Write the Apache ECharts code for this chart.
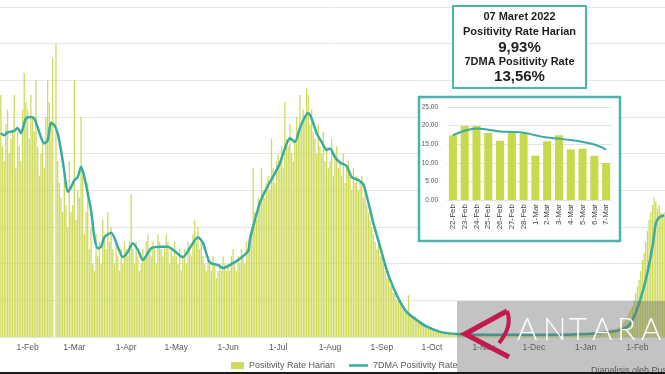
<!DOCTYPE html>
<html><head><meta charset="utf-8">
<script src="https://cdn.jsdelivr.net/npm/echarts@6/dist/echarts.min.js"></script>
<style>html,body{margin:0;padding:0;background:#fff;overflow:hidden}#c{width:665px;height:374px}</style>
</head><body><div id="c"></div>
<script>
// ---- Daily positivity rate (%), starting 2021-01-16 ----
const jan2021 = [33, 26, 24, 29, 31, 25, 27, 28, 33, 23, 28, 26, 24, 31, 36, 32];
const feb2021 = [31, 27, 33, 30, 28, 35, 26, 22, 25, 27, 23, 30, 35, 32, 29, 38, 0, 40, 24, 21, 19, 17, 22, 18, 15, 24, 17, 18];
const mar2021 = [35, 16, 20, 19, 30, 22, 14, 17, 21, 12, 15, 10, 9, 14, 11, 13, 10, 16, 14, 12, 17, 13, 15, 12, 10, 13, 11, 9, 12, 10, 13];
const apr2021 = [12, 11, 13, 19.5, 12, 10, 13, 11, 9, 10, 12, 11, 13, 14, 12, 11, 13, 12, 10, 14, 13, 12, 11, 12, 14, 13, 10, 12, 11, 13];
const may2021 = [11, 10, 12, 9, 11, 12, 10, 13, 12, 11, 14, 16, 13, 15, 12, 13, 11, 10, 9, 11, 10, 9, 11, 10, 8, 9, 10, 9, 11, 10, 9];
const jun2021 = [10, 9, 11, 12, 10, 9, 11, 10, 12, 11, 10, 13, 12, 14, 15, 23, 17, 16, 19, 18, 23, 20, 19, 21, 22, 20, 27, 23, 21, 24];
const jul2021 = [25, 24, 26, 23, 32, 27, 26, 29, 25, 24, 27, 30, 28, 33, 29, 31, 30, 34, 33, 29, 31, 28, 27, 25, 29, 26, 25, 28, 24, 26, 23];
const aug2021 = [24, 27, 22, 25, 26, 23, 24, 22, 25, 21, 23, 24, 22, 20, 23, 21, 22, 20, 21, 22, 19, 20, 18, 17, 16, 15, 14, 13, 12, 13, 11];
const sep2021 = [11, 10, 9, 8, 9, 7, 7, 6, 6, 5, 5, 4.5, 4.5, 4, 3.5, 3.5, 5.7, 3, 3, 2.5, 2.8, 2.2, 2, 2.2, 1.8, 1.6, 1.5, 1.4, 1.2, 1.1];
const oct2021 = [1.0, 0.9, 0.8, 0.8, 0.7, 0.7, 0.6, 0.6, 0.5, 0.5, 0.5, 0.5, 0.4, 0.5, 0.4, 0.4, 0.4, 0.4, 0.3, 0.4, 0.3, 0.3, 0.3, 0.3, 0.3, 0.4, 0.3, 0.3, 0.3, 0.3, 0.3];
const nov2021 = [0.3, 0.2, 0.3, 0.3, 0.2, 0.3, 0.2, 0.3, 0.3, 0.2, 0.3, 0.2, 0.2, 0.3, 0.2, 0.3, 0.2, 0.2, 0.3, 0.2, 0.2, 0.3, 0.2, 0.2, 0.3, 0.2, 0.2, 0.3, 0.2, 0.3];
const dec2021 = [0.2, 0.3, 0.2, 0.2, 0.3, 0.2, 0.3, 0.2, 0.2, 0.3, 0.2, 0.3, 0.2, 0.2, 0.3, 0.3, 0.2, 0.3, 0.3, 0.2, 0.3, 0.3, 0.3, 0.4, 0.3, 0.3, 0.4, 0.3, 0.4, 0.4, 0.4];
const jan2022 = [0.4, 0.4, 0.5, 0.5, 0.5, 0.5, 0.6, 0.6, 0.6, 0.7, 0.7, 0.7, 0.8, 0.8, 0.9, 0.9, 1.0, 1.1, 1.1, 1.2, 1.3, 1.5, 1.8, 2.0, 2.4, 2.8, 3.3, 3.8, 4.2, 5.0, 6.0];
const feb2022 = [6.8, 7.8, 9.0, 10.5, 11.5, 13.0, 14.5, 16.0, 17.0, 18.0, 19.0, 18.5, 17.5, 18.0, 17.0, 16.5, 17.0];
const startDate = [2021, 0, 16];

// ---- 7-day moving average (%) read at points along the line ----
const ma7Dates = ['2021-01-16','2021-01-18','2021-01-20','2021-01-24','2021-01-26','2021-01-28','2021-01-31','2021-02-03','2021-02-05','2021-02-07','2021-02-11','2021-02-13','2021-02-15','2021-02-17','2021-02-19','2021-02-21','2021-02-23','2021-02-25','2021-02-27','2021-03-01','2021-03-03','2021-03-05','2021-03-07','2021-03-09','2021-03-11','2021-03-13','2021-03-15','2021-03-17','2021-03-19','2021-03-23','2021-03-27','2021-03-30','2021-04-02','2021-04-05','2021-04-08','2021-04-11','2021-04-16','2021-04-22','2021-04-26','2021-04-29','2021-05-05','2021-05-09','2021-05-14','2021-05-17','2021-05-21','2021-05-26','2021-05-29','2021-06-02','2021-06-07','2021-06-13','2021-06-14','2021-06-17','2021-06-20','2021-06-23','2021-06-26','2021-06-29','2021-07-02','2021-07-05','2021-07-08','2021-07-11','2021-07-14','2021-07-17','2021-07-19','2021-07-21','2021-07-24','2021-07-27','2021-07-30','2021-08-01','2021-08-04','2021-08-07','2021-08-11','2021-08-14','2021-08-18','2021-08-21','2021-08-24','2021-08-27','2021-08-31','2021-09-04','2021-09-08','2021-09-12','2021-09-16','2021-09-22','2021-09-28','2021-10-06','2021-10-16','2021-11-01','2021-11-23','2021-12-17','2022-01-09','2022-01-15','2022-01-21','2022-01-27','2022-01-30','2022-02-02','2022-02-06','2022-02-10','2022-02-12','2022-02-14','2022-02-17'];
const ma7Values = [27.8,27.5,27.9,28.1,28.5,27.8,29.8,30.0,29.8,28.6,26.4,26.8,29.2,28.9,27.8,25.5,22.5,19.8,20.4,21.4,21.8,23.2,21.8,19.6,17.3,13.6,12.1,12.3,13.6,14.2,12.3,10.9,11.6,12.8,11.9,10.5,12.1,12.3,12.3,11.9,10.9,12.1,13.6,12.8,10.2,9.8,9.4,9.8,10.5,11.7,13.2,15.9,18.3,19.8,21.1,22.3,23.7,25.7,27.1,26.6,28.5,30.0,30.5,29.8,27.8,26.6,25.5,25.7,24.5,23.8,23.3,21.8,21.4,20.8,18.3,15.5,12.3,9.1,6.7,4.8,3.4,2.3,1.4,0.7,0.4,0.3,0.3,0.3,0.5,0.7,0.9,1.6,2.8,4.6,7.8,12.3,15.5,16.3,16.6];

// ---- Inset: last 14 days ----
const insetCategories = ['22-Feb','23-Feb','24-Feb','25-Feb','26-Feb','27-Feb','28-Feb','1-Mar','2-Mar','3-Mar','4-Mar','5-Mar','6-Mar','7-Mar'];
const insetDaily = [17.4, 19.9, 19.9, 18.0, 15.9, 18.0, 17.9, 11.9, 15.8, 17.4, 13.6, 13.8, 11.9, 9.93];
const insetMA7 = [17.4, 18.6, 19.2, 18.9, 18.4, 18.3, 18.1, 17.4, 16.8, 16.5, 16.1, 15.6, 14.9, 13.56];

// ---- Summary box texts ----
const boxLines = ['07 Maret 2022', 'Positivity Rate Harian', '9,93%', '7DMA Positivity Rate', '13,56%'];
const monthNames = ['Jan','Feb','Mar','Apr','May','Jun','Jul','Aug','Sep','Oct','Nov','Dec'];

const daily = [].concat(jan2021, feb2021, mar2021, apr2021, may2021, jun2021, jul2021, aug2021, sep2021, oct2021, nov2021, dec2021, jan2022, feb2022);
const categories = [];
const t0 = Date.UTC(startDate[0], startDate[1], startDate[2]);
for (let i = 0; i < daily.length; i++) {
  categories.push(new Date(t0 + i * 86400000).toISOString().slice(0, 10));
}
const fmt = s => (+s.slice(8, 10)) + '-' + monthNames[+s.slice(5, 7) - 1];
const ma7 = ma7Dates.map((d, i) => [categories.indexOf(d), ma7Values[i]]);

const TEAL = '#3aab9f';
const FONT = '"Liberation Sans", Arial, sans-serif';

const chart = echarts.init(document.getElementById('c'));
const boxY = [17, 32, 48, 62, 77];
const boxFont = ['bold 11px', 'bold 11px', 'bold 15px', 'bold 11px', 'bold 15px'];
const wm = ['A','N','T','A','R','A'];
const wmX = [517, 543, 569, 592, 617, 641];

chart.setOption({
  animation: false,
  textStyle: { fontFamily: FONT },
  grid: [
    { left: 0, right: 0, top: 7, bottom: 37 },
    { left: 447, width: 165, top: 107, height: 93 }
  ],
  legend: [
    { data: ['Positivity Rate Harian'], left: 226, top: 356, icon: 'rect', itemWidth: 13, itemHeight: 7,
      textStyle: { fontSize: 9, color: '#595959' }, selectedMode: false },
    { data: ['7DMA Positivity Rate'], left: 344, top: 356, icon: 'rect', itemWidth: 19, itemHeight: 2.5,
      textStyle: { fontSize: 9, color: '#595959' }, selectedMode: false }
  ],
  xAxis: [
    { type: 'category', gridIndex: 0, data: categories,
      axisLine: { show: false }, axisTick: { show: false },
      axisLabel: { interval: (i, v) => v.slice(8) === '01', formatter: fmt, fontSize: 8.5, color: '#595959', margin: 6 } },
    { type: 'category', gridIndex: 1, data: insetCategories, z: 4,
      axisLine: { show: false }, axisTick: { show: false },
      axisLabel: { interval: 0, rotate: 90, fontSize: 8, color: '#444', margin: 4 } }
  ],
  yAxis: [
    { type: 'value', gridIndex: 0, min: 0, max: 45, interval: 5,
      axisLabel: { show: false }, axisLine: { show: false }, axisTick: { show: false },
      splitLine: { lineStyle: { color: '#e6e6e6', width: 1 } } },
    { type: 'value', gridIndex: 1, min: 0, max: 25, interval: 5, z: 4,
      axisLabel: { formatter: v => v.toFixed(2), fontSize: 6.5, color: '#555', margin: 9 },
      axisLine: { show: false }, axisTick: { show: false },
      splitLine: { lineStyle: { color: '#e3e3e3', width: 1 } } }
  ],
  series: [
    { name: 'Positivity Rate Harian', type: 'bar', xAxisIndex: 0, yAxisIndex: 0, data: daily, z: 1,
      barCategoryGap: '22%', itemStyle: { color: '#cfdb5c' }, silent: true },
    { name: '7DMA Positivity Rate', type: 'line', xAxisIndex: 0, yAxisIndex: 0, data: ma7, z: 2,
      symbol: 'none', smooth: 0.25, lineStyle: { color: TEAL, width: 2.5 }, itemStyle: { color: TEAL }, silent: true },
    { name: 'inset-daily', type: 'bar', xAxisIndex: 1, yAxisIndex: 1, data: insetDaily, z: 5,
      barWidth: 8, itemStyle: { color: '#c8d94a' }, silent: true },
    { name: 'inset-ma7', type: 'line', xAxisIndex: 1, yAxisIndex: 1, data: insetMA7, z: 6,
      symbol: 'none', smooth: 0.4, lineStyle: { color: TEAL, width: 2 }, silent: true }
  ],
  graphic: [
    { type: 'rect', z: 3, zlevel: 0, shape: { x: 419, y: 97, width: 201, height: 144 },
      style: { fill: '#fff', stroke: '#4cb5ab', lineWidth: 2.5 } },
    { type: 'rect', z: 7, shape: { x: 453, y: 6, width: 133, height: 82 },
      style: { fill: '#fff', stroke: '#4cb5ab', lineWidth: 2 } }
  ].concat(boxLines.map((t, i) => ({
      type: 'text', z: 8,
      style: { text: t, x: 519.5, y: boxY[i], textAlign: 'center', textVerticalAlign: 'middle',
               font: boxFont[i] + ' ' + FONT, fill: '#1e1e1e' } })))
  .concat([
    { type: 'text', z: 8, style: { text: 'Dianalisis oleh Pusat Data', x: 591, y: 371, textVerticalAlign: 'middle',
      font: '9px ' + FONT, fill: '#555' } },
    { type: 'rect', z: 10, shape: { x: 457, y: 301, width: 208, height: 73 },
      style: { fill: 'rgba(105,105,105,0.4)' } },
    { type: 'polyline', z: 11, shape: { points: [[507, 311], [465, 334], [509, 357]] },
      style: { stroke: '#c21a4e', lineWidth: 5, fill: null, lineJoin: 'miter' } },
    { type: 'bezierCurve', z: 11, shape: { x1: 507, y1: 311, cpx1: 513, cpy1: 326, x2: 499, y2: 343 },
      style: { stroke: '#c21a4e', lineWidth: 4, fill: null } },
    { type: 'rect', z: 12, shape: { x: 0, y: 372, width: 665, height: 2 }, style: { fill: '#1a1a1a' } }
  ])
  .concat(wm.map((ch, i) => ({
      type: 'text', z: 11,
      style: { text: ch, x: wmX[i], y: 330, textVerticalAlign: 'middle',
               font: '300 31px Lato, "Open Sans", sans-serif', fill: '#ffffff' } })))
});
</script>
</body></html>
